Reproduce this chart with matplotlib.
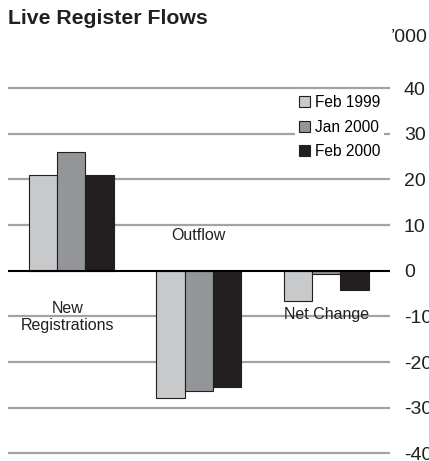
import matplotlib.pyplot as plt
import numpy as np

plt.rcParams['font.family'] = ['Liberation Sans', 'DejaVu Sans']

groups = ['New\nRegistrations', 'Outflow', 'Net Change']
series = ['Feb 1999', 'Jan 2000', 'Feb 2000']
feb_1999 = [21.0, -27.8, -6.7]
jan_2000 = [25.9, -26.3, -0.8]
feb_2000 = [21.0, -25.4, -4.3]
colors = ['#c8c9cb', '#939598', '#231f20']
yticks = [40, 30, 20, 10, 0, -10, -20, -30, -40]

fig = plt.figure(figsize=(4.29, 4.61), dpi=100)
ax = fig.add_axes([7.5 / 429, 1 - 457.9 / 461, 382.5 / 429, 374.4 / 461])

x = np.arange(len(groups))
w = 0.223
for i, (vals, c, lab) in enumerate(zip([feb_1999, jan_2000, feb_2000], colors, series)):
    ax.bar(x + (i - 1) * w, vals, width=w, color=c, edgecolor='#231f20',
           linewidth=0.8, label=lab, zorder=3)

for t in yticks:
    if t == 0:
        ax.axhline(t, color='black', linewidth=1.5, zorder=4)
    else:
        ax.axhline(t, color='#a3a3a3', linewidth=1.6, zorder=1)

ax.set_xlim(-0.5, 2.5)
ax.set_ylim(-41, 41)
ax.set_xticks([])
ax.yaxis.tick_right()
ax.set_yticks(yticks)
ax.set_yticklabels([str(t) for t in yticks])
ax.tick_params(axis='y', length=0, pad=10, labelsize=14, labelcolor='#231f20')
for s in ax.spines.values():
    s.set_visible(False)

ax.text(-0.03, -10.2, groups[0], ha='center', va='center', fontsize=11.5,
        color='#231f20', linespacing=1.2, zorder=5)
ax.text(1.0, 7.8, groups[1], ha='center', va='center', fontsize=11.5,
        color='#231f20', zorder=5)
ax.text(2.0, -9.5, groups[2], ha='center', va='center', fontsize=11.5,
        color='#231f20', zorder=5)

leg = ax.legend(loc='upper right', bbox_to_anchor=(384 / 429, 1 - 91 / 461),
                bbox_transform=fig.transFigure, fontsize=11.2, frameon=True,
                fancybox=False, borderpad=0.25, borderaxespad=0,
                handlelength=0.7, handleheight=0.7, handletextpad=0.3,
                labelspacing=0.62)
leg.get_frame().set_facecolor('white')
leg.get_frame().set_edgecolor('none')
leg.get_frame().set_alpha(1)
leg.set_zorder(6)

fig.text(8 / 429, 1 - 19 / 461, 'Live Register Flows', fontsize=15.3,
         fontweight='bold', color='#231f20', ha='left', va='center')
fig.text(428 / 429, 1 - 38 / 461, '\u2019000', fontsize=14, color='#231f20',
         ha='right', va='center')

fig.savefig('out.png', dpi=100)
